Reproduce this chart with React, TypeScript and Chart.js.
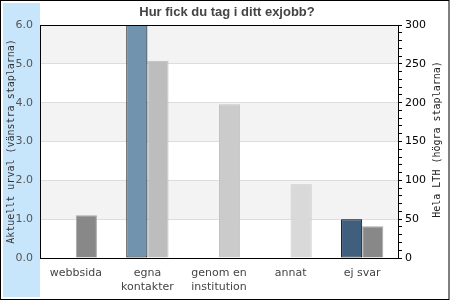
import React, { useEffect, useRef } from "react";
import { Chart, registerables } from "chart.js";

Chart.register(...registerables);

const categories: (string | string[])[] = [
  "webbsida",
  ["egna", "kontakter"],
  ["genom en", "institution"],
  "annat",
  "ej svar",
];
const aktuelltUrval = [0, 6.0, 0, 0, 1.0];
const helaLTH = [55, 254, 198, 95, 41];
const leftColors = ["#7293ae", "#7293ae", "#7293ae", "#7293ae", "#3f5f7d"];
const rightColors = ["#888888", "#bdbdbd", "#cbcbcb", "#d9d9d9", "#888888"];
const rightBorders = ["#a9a9a9", "#bdbdbd", "#c2c2c2", "#c6c6c6", "#a9a9a9"];
const titleText = "Hur fick du tag i ditt exjobb?";
const leftTitle = "Aktuellt urval (vänstra staplarna)";
const rightTitle = "Hela LTH (högra staplarna)";

const decor = {
  id: "decor",
  beforeDraw(chart: any) {
    const ctx = chart.ctx;
    const { left, right, top, bottom } = chart.chartArea;
    ctx.save();
    ctx.fillStyle = "#ffffff";
    ctx.fillRect(0, 0, chart.width, chart.height);
    ctx.fillStyle = "#c8e6fb";
    ctx.fillRect(3, 3, left - 3, chart.height - 6);
    ctx.strokeStyle = "#000000";
    ctx.lineWidth = 1;
    ctx.strokeRect(0.5, 0.5, chart.width - 1.5, chart.height - 1);
    ctx.fillStyle = "#ffffff";
    ctx.fillRect(left, top, right - left, bottom - top);
    const y = chart.scales.y;
    ctx.fillStyle = "#f3f3f3";
    for (let v = 6; v > 0; v -= 2) {
      const y1 = y.getPixelForValue(v);
      const y2 = y.getPixelForValue(v - 1);
      ctx.fillRect(left, y1, right - left, y2 - y1);
    }
    ctx.restore();
  },
  afterDraw(chart: any) {
    const ctx = chart.ctx;
    const { left, right, top } = chart.chartArea;
    ctx.save();
    ctx.strokeStyle = "#000000";
    ctx.lineWidth = 1;
    ctx.beginPath();
    ctx.moveTo(left, top + 0.5);
    ctx.lineTo(right + 0.5, top + 0.5);
    ctx.stroke();
    ctx.fillStyle = "#444444";
    ctx.font = "bold 13px 'Liberation Sans', Arial, sans-serif";
    ctx.textAlign = "center";
    ctx.textBaseline = "alphabetic";
    ctx.fillText(titleText, 227, 16);
    const cy = (chart.chartArea.top + chart.chartArea.bottom) / 2;
    ctx.font = "10px 'DejaVu Sans Mono', monospace";
    ctx.fillStyle = "#333333";
    ctx.save();
    ctx.translate(13.5, cy);
    ctx.rotate(-Math.PI / 2);
    ctx.fillText(leftTitle, 0, 0);
    ctx.restore();
    ctx.fillStyle = "#222222";
    ctx.save();
    ctx.translate(440, cy - 2);
    ctx.rotate(-Math.PI / 2);
    ctx.fillText(rightTitle, 0, 0);
    ctx.restore();
    ctx.restore();
  },
};

export default function App() {
  const ref = useRef<HTMLCanvasElement | null>(null);
  useEffect(() => {
    if (!ref.current) return;
    const chart = new Chart(ref.current, {
      type: "bar",
      data: {
        labels: categories,
        datasets: [
          {
            label: "Aktuellt urval",
            data: aktuelltUrval,
            yAxisID: "y",
            backgroundColor: leftColors,
            borderColor: "#000000",
            borderWidth: 1,
            borderSkipped: false,
          },
          {
            label: "Hela LTH",
            data: helaLTH,
            yAxisID: "y1",
            backgroundColor: rightColors,
            borderColor: rightBorders,
            borderWidth: 1,
          },
        ],
      },
      options: {
        animation: false,
        responsive: false,
        maintainAspectRatio: false,
        layout: { padding: { top: 25, left: 0, right: 0, bottom: 0 } },
        datasets: { bar: { categoryPercentage: 0.59, barPercentage: 1.0 } },
        plugins: { legend: { display: false }, tooltip: { enabled: false }, title: { display: false } },
        scales: {
          x: {
            afterFit: (s: any) => { s.height = 42; },
            grid: { drawOnChartArea: false, drawTicks: false },
            border: { display: true, color: "#000000", width: 1 },
            ticks: {
              color: "#444444",
              font: { family: "'DejaVu Sans', sans-serif", size: 11 },
              padding: 9,
              maxRotation: 0,
              autoSkip: false,
            },
          },
          y: {
            position: "left",
            min: 0,
            max: 6,
            afterFit: (s: any) => { s.width = 40; },
            grid: { color: "#dddddd", drawTicks: false },
            border: { display: true, color: "#000000", width: 1 },
            ticks: {
              stepSize: 1,
              color: "#555555",
              font: { family: "'DejaVu Sans', sans-serif", size: 11 },
              padding: 7,
              callback: (v: any) => Number(v).toFixed(1),
            },
          },
          y1: {
            position: "right",
            min: 0,
            max: 300,
            afterFit: (s: any) => { s.width = 52; },
            grid: { drawOnChartArea: false, drawTicks: true, tickLength: 4, color: "#000000" },
            border: { display: true, color: "#000000", width: 1 },
            ticks: {
              stepSize: 10,
              autoSkip: false,
              color: "#000000",
              font: { family: "'DejaVu Sans', sans-serif", size: 11 },
              padding: 3,
              callback: (v: any) => (Number(v) % 50 === 0 ? String(v) : ""),
            },
          },
        },
      },
      plugins: [decor],
    });
    return () => chart.destroy();
  }, []);
  return (
    <div style={{ position: "fixed", left: 0, top: 0, width: 450, height: 300 }}>
      <canvas ref={ref} width={450} height={300} style={{ width: 450, height: 300, display: "block" }} />
    </div>
  );
}
